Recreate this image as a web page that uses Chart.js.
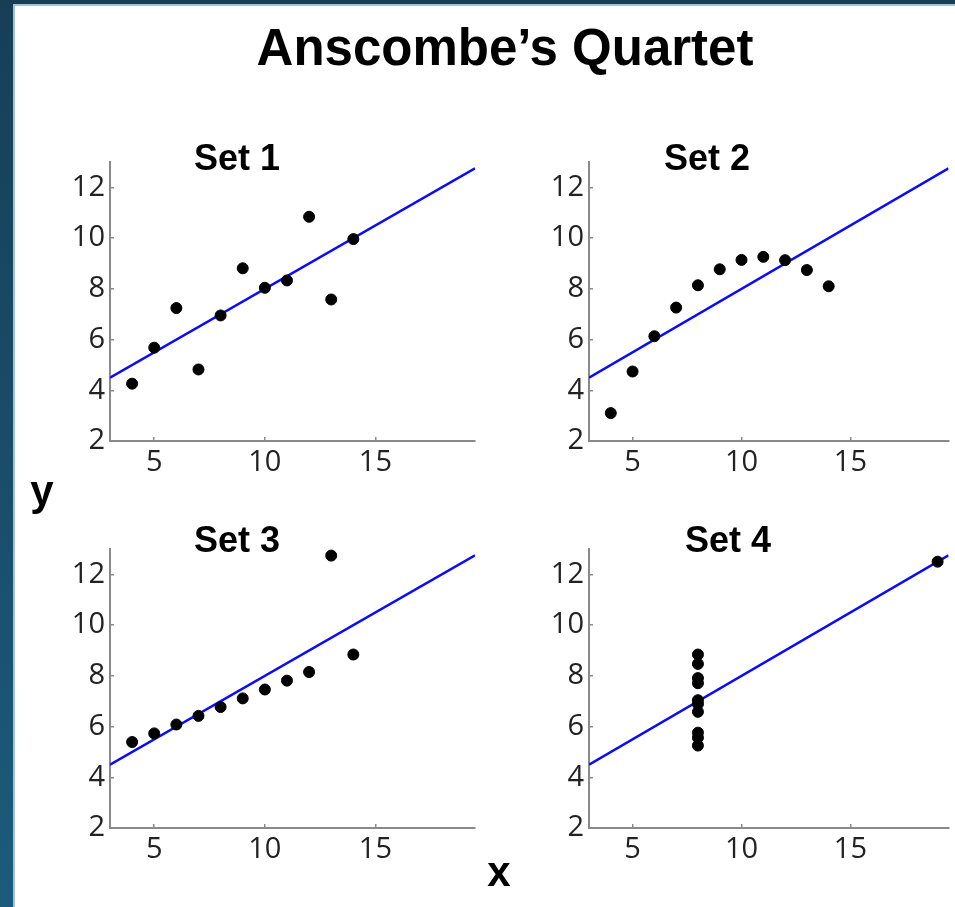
<!DOCTYPE html>
<html lang="en">
<head>
<meta charset="UTF-8">
<title>Anscombe's Quartet</title>
<script src="https://cdn.jsdelivr.net/npm/chart.js"></script>
<style>
  body { margin: 0; width: 955px; height: 907px; overflow: hidden; background: #fff; position: relative; font-family: "Liberation Sans", Arial, sans-serif; }
  .frame { position: absolute; }
  canvas { position: absolute; left: 0; top: 0; }
  .lbl { position: absolute; transform: translateX(-50%); white-space: nowrap; line-height: 1; font-weight: bold; color: #000; }
</style>
</head>
<body>
  <!-- dark frame on the top and left edge -->
  <div class="frame" style="left:0;top:0;width:955px;height:4px;background:#163f56"></div>
  <div class="frame" style="left:15px;top:4px;width:940px;height:2px;background:#a8bfcc"></div>
  <div class="frame" style="left:0;top:0;width:13px;height:907px;background:linear-gradient(#163f56,#1c5b7c)"></div>
  <div class="frame" style="left:13px;top:4px;width:2px;height:903px;background:#a8bfcc"></div>

  <canvas id="c1" width="955" height="907"></canvas>
  <canvas id="c2" width="955" height="907"></canvas>
  <canvas id="c3" width="955" height="907"></canvas>
  <canvas id="c4" width="955" height="907"></canvas>

  <div class="lbl" style="left:505px;top:22px;font-size:51px">Anscombe’s Quartet</div>
  <div class="lbl" id="t1" style="left:237px;top:140px;font-size:36px"></div>
  <div class="lbl" id="t2" style="left:707px;top:140px;font-size:36px"></div>
  <div class="lbl" id="t3" style="left:237px;top:522px;font-size:36px"></div>
  <div class="lbl" id="t4" style="left:728px;top:522px;font-size:36px"></div>
  <div class="lbl" style="left:42px;top:470px;font-size:42px">y</div>
  <div class="lbl" style="left:499px;top:851px;font-size:42px">x</div>

<script>
  const setNames = ['Set 1', 'Set 2', 'Set 3', 'Set 4'];

  const x123 = [10, 8, 13, 9, 11, 14, 6, 4, 12, 7, 5];
  const y1 = [8.04, 6.95, 7.58, 8.81, 8.33, 9.96, 7.24, 4.26, 10.84, 4.82, 5.68];
  const y2 = [9.14, 8.14, 8.74, 8.77, 9.26, 8.10, 6.13, 3.10, 9.13, 7.26, 4.74];
  const y3 = [7.46, 6.77, 12.74, 7.11, 7.81, 8.84, 6.08, 5.39, 8.15, 6.42, 5.73];
  const x4 = [8, 8, 8, 8, 8, 8, 8, 19, 8, 8, 8];
  const y4 = [6.58, 5.76, 7.71, 8.84, 8.47, 7.04, 5.25, 12.50, 5.56, 7.91, 6.89];

  // fitted line y = 3 + 0.5x, endpoints only
  const fitX = [3, 19.5];
  const fitY = [4.5, 12.75];

  const xTicks = [5, 10, 15];
  const yTicks = [2, 4, 6, 8, 10, 12];
  const xRange = [3, 19.5];
  const yRange = [2, 13];

  const axisColor = '#8a8a8a';
  const tickFont = { family: '"Open Sans", "DejaVu Sans", sans-serif', size: 29 };

  function dibujarSet(id, xs, ys, pad) {
    new Chart(document.getElementById(id), {
      type: 'scatter',
      data: {
        datasets: [
          {
            type: 'line',
            data: fitX.map((x, i) => ({ x: x, y: fitY[i] })),
            borderColor: '#0a0aff',
            borderWidth: 2.5,
            pointRadius: 0,
            fill: false,
            order: 2
          },
          {
            data: xs.map((x, i) => ({ x: x, y: ys[i] })),
            backgroundColor: '#000',
            borderColor: '#000',
            pointRadius: 5.5,
            order: 1
          }
        ]
      },
      options: {
        responsive: false,
        animation: false,
        layout: { padding: pad },
        plugins: { legend: { display: false }, tooltip: { enabled: false } },
        scales: {
          x: {
            type: 'linear',
            min: xRange[0],
            max: xRange[1],
            afterBuildTicks: s => { s.ticks = xTicks.map(v => ({ value: v })); },
            afterFit: s => { s.height = 45; },
            grid: { drawOnChartArea: false, tickLength: -4, color: axisColor, lineWidth: 1.5 },
            border: { color: axisColor, width: 2 },
            ticks: { padding: 8, color: '#222', font: tickFont, maxRotation: 0 }
          },
          y: {
            type: 'linear',
            min: yRange[0],
            max: yRange[1],
            afterBuildTicks: s => { s.ticks = yTicks.map(v => ({ value: v })); },
            afterFit: s => { s.width = 60; },
            grid: { drawOnChartArea: false, tickLength: -4, color: axisColor, lineWidth: 1.5 },
            border: { color: axisColor, width: 2 },
            ticks: { padding: 9, color: '#222', font: tickFont }
          }
        }
      }
    });
  }

  ['t1', 't2', 't3', 't4'].forEach((id, i) => { document.getElementById(id).textContent = setNames[i]; });

  dibujarSet('c1', x123, y1, { left: 50, right: 480, top: 162, bottom: 421 });
  dibujarSet('c2', x123, y2, { left: 529, right: 0, top: 162, bottom: 421 });
  dibujarSet('c3', x123, y3, { left: 50, right: 480, top: 549, bottom: 34 });
  dibujarSet('c4', x4, y4, { left: 529, right: 0, top: 549, bottom: 34 });
</script>
</body>
</html>
